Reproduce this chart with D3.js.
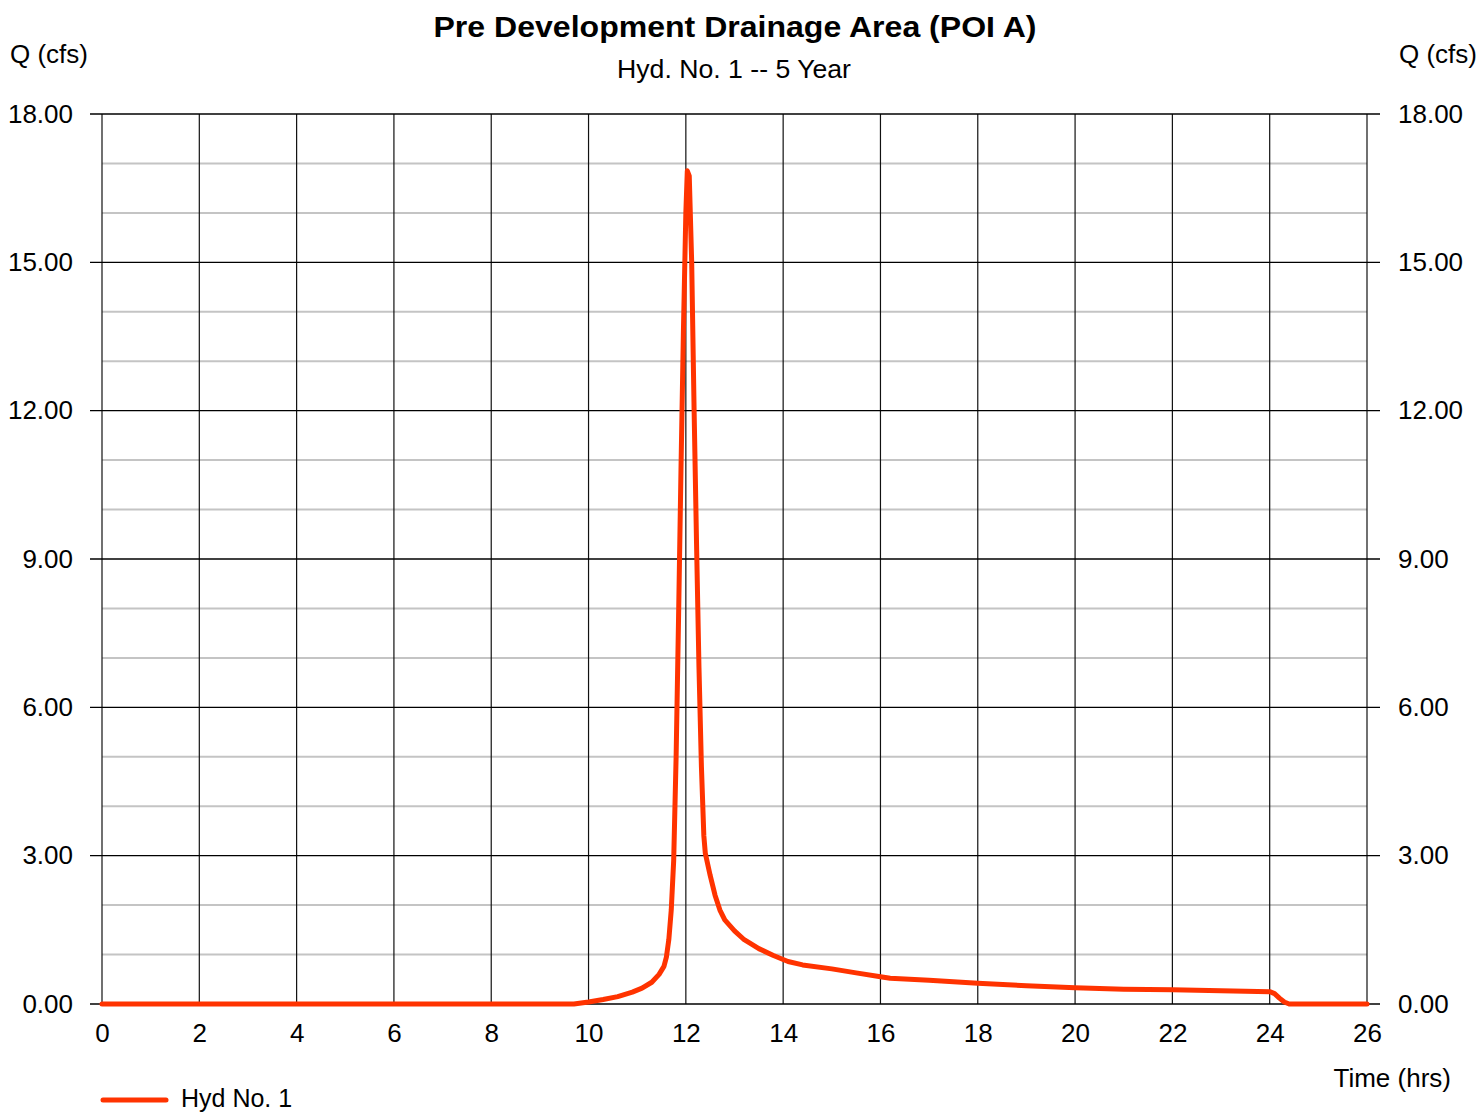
<!DOCTYPE html>
<html>
<head>
<meta charset="utf-8">
<script src="https://cdn.jsdelivr.net/npm/d3@7"></script>
<style>
  html, body { margin: 0; padding: 0; background: #fff; }
  svg text { font-family: "Liberation Sans", Arial, sans-serif; fill: #000; }
</style>
</head>
<body>
<svg id="chart" width="1481" height="1114"></svg>
<script>
// ---- data ----
const titleText = "Pre Development Drainage Area (POI A)";
const subtitleText = "Hyd. No. 1 -- 5 Year";
const seriesName = "Hyd No. 1";
const yTicks = [0, 3, 6, 9, 12, 15, 18];
const yMinor = [1, 2, 4, 5, 7, 8, 10, 11, 13, 14, 16, 17];
const xTicks = [0, 2, 4, 6, 8, 10, 12, 14, 16, 18, 20, 22, 24, 26];
const timeHrs = [0, 9.7, 10.0, 10.3, 10.6, 10.9, 11.1, 11.3, 11.45, 11.55, 11.6, 11.65, 11.7, 11.75, 11.8, 11.85, 11.9, 11.95, 12.0, 12.03, 12.07, 12.12, 12.17, 12.22, 12.27, 12.32, 12.37, 12.4, 12.5, 12.6, 12.7, 12.8, 13.0, 13.2, 13.5, 13.8, 14.1, 14.4, 15.0, 15.5, 16.0, 16.2, 17.0, 18.0, 19.0, 20.0, 21.0, 22.0, 23.0, 24.0, 24.1, 24.2, 24.3, 24.4, 26.0];
const flowCfs = [0, 0, 0.04, 0.09, 0.15, 0.24, 0.32, 0.44, 0.60, 0.76, 0.95, 1.3, 1.9, 2.9, 5.0, 7.8, 10.8, 13.6, 16.0, 16.85, 16.75, 15.0, 12.0, 9.3, 6.8, 4.8, 3.4, 3.05, 2.6, 2.2, 1.9, 1.7, 1.48, 1.3, 1.12, 0.98, 0.86, 0.79, 0.71, 0.63, 0.55, 0.52, 0.48, 0.42, 0.37, 0.33, 0.30, 0.29, 0.27, 0.25, 0.21, 0.12, 0.04, 0, 0];

// ---- layout ----
const svg = d3.select("#chart");
const L = 102, R = 1367, T = 114, B = 1004;
const x = d3.scaleLinear().domain([0, 26]).range([L, R]);
const y = d3.scaleLinear().domain([0, 18]).range([B, T]);
const lineColor = "#ff3300";
const FS = 26;

// minor horizontal gridlines
svg.append("g").selectAll("line").data(yMinor).join("line")
  .attr("x1", L).attr("x2", R)
  .attr("y1", d => y(d)).attr("y2", d => y(d))
  .attr("stroke", "#c4c4c4").attr("stroke-width", 2);

// vertical gridlines
svg.append("g").selectAll("line").data(xTicks).join("line")
  .attr("x1", d => x(d)).attr("x2", d => x(d))
  .attr("y1", T).attr("y2", B)
  .attr("stroke", "#111").attr("stroke-width", 1.2);

// major horizontal gridlines + ticks on both sides
svg.append("g").selectAll("line").data(yTicks).join("line")
  .attr("x1", L - 12).attr("x2", R + 13)
  .attr("y1", d => y(d)).attr("y2", d => y(d))
  .attr("stroke", "#000").attr("stroke-width", 1.3);

// axes via d3 (labels only)
const fmt = d3.format(".2f");
const leftAxis = svg.append("g").attr("transform", `translate(${L - 12},0)`)
  .call(d3.axisLeft(y).tickValues(yTicks).tickFormat(fmt).tickSize(0).tickPadding(17));
const rightAxis = svg.append("g").attr("transform", `translate(${R + 13},0)`)
  .call(d3.axisRight(y).tickValues(yTicks).tickFormat(fmt).tickSize(0).tickPadding(18));
const bottomAxis = svg.append("g").attr("transform", `translate(0,${B})`)
  .call(d3.axisBottom(x).tickValues(xTicks).tickFormat(d3.format("d")).tickSize(0).tickPadding(20));
[leftAxis, rightAxis, bottomAxis].forEach(g => {
  g.select(".domain").remove();
  g.selectAll("text").attr("font-size", FS).attr("font-family", "'Liberation Sans', Arial, sans-serif").attr("fill", "#000");
});

// hydrograph line
const line = d3.line().x((d, i) => x(timeHrs[i])).y(d => y(d));
svg.append("path").datum(flowCfs)
  .attr("d", line)
  .attr("fill", "none")
  .attr("stroke", lineColor)
  .attr("stroke-width", 5)
  .attr("stroke-linejoin", "round")
  .attr("stroke-linecap", "round");

// titles
svg.append("text").attr("x", 735).attr("y", 37).attr("text-anchor", "middle")
  .attr("font-size", 29).attr("font-weight", "bold")
  .attr("textLength", 603).attr("lengthAdjust", "spacingAndGlyphs")
  .text(titleText);
svg.append("text").attr("x", 734).attr("y", 78).attr("text-anchor", "middle")
  .attr("font-size", 25)
  .attr("textLength", 234).attr("lengthAdjust", "spacingAndGlyphs")
  .text(subtitleText);
svg.append("text").attr("x", 10).attr("y", 63).attr("font-size", FS).text("Q (cfs)");
svg.append("text").attr("x", 1477).attr("y", 63).attr("text-anchor", "end").attr("font-size", FS).text("Q (cfs)");
svg.append("text").attr("x", 1451).attr("y", 1087).attr("text-anchor", "end").attr("font-size", FS).text("Time (hrs)");

// legend
svg.append("line").attr("x1", 103).attr("x2", 166).attr("y1", 1100).attr("y2", 1100)
  .attr("stroke", lineColor).attr("stroke-width", 5).attr("stroke-linecap", "round");
svg.append("text").attr("x", 181).attr("y", 1107).attr("font-size", 25).text(seriesName);
</script>
</body>
</html>
